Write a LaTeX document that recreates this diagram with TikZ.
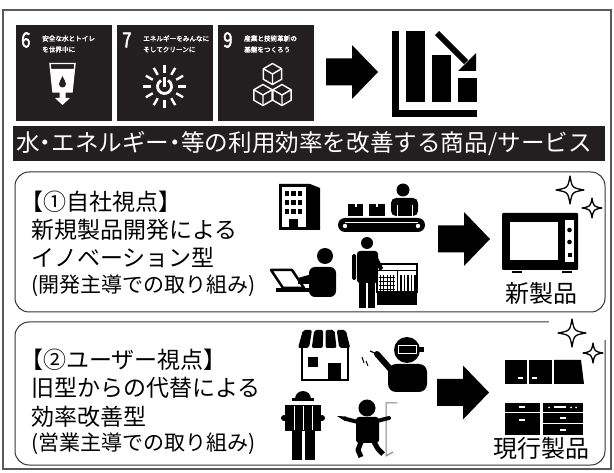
\documentclass[tikz,border=0pt]{standalone}
\usepackage{fontspec}
\setmainfont{Noto Sans CJK JP}
\newfontfamily\jpbold{Noto Sans CJK JP}[FakeBold=2.5]
\usetikzlibrary{calc}
\definecolor{sdgblack}{HTML}{231F20}
\definecolor{framegray}{HTML}{595959}
\definecolor{boxgray}{HTML}{333333}
\newcommand{\tilecolor}{sdgblack}
\newcommand{\iconline}{1.4pt}
\newcommand{\halfdot}{\makebox[0.5em]{・}}

% block arrow, left end #1, middle height #2
\newcommand{\blockarrow}[2]{%
  \fill (#1,#2-13.5) -- (#1+26,#2-13.5) -- (#1+26,#2-27) -- (#1+52,#2)
        -- (#1+26,#2+27) -- (#1+26,#2+13.5) -- (#1,#2+13.5) -- cycle;
}
% four point sparkle, centre #1,#2 and half size #3
\newcommand{\sparkle}[3]{%
  \filldraw[fill=white, draw=black, line width=1.3pt, line join=round]
    (#1,#2-#3) .. controls (#1+0.15*#3,#2-0.15*#3) .. (#1+#3,#2)
    .. controls (#1+0.15*#3,#2+0.15*#3) .. (#1,#2+#3)
    .. controls (#1-0.15*#3,#2+0.15*#3) .. (#1-#3,#2)
    .. controls (#1-0.15*#3,#2-0.15*#3) .. (#1,#2-#3) -- cycle;
}
% wire cube for goal 9
\newcommand{\isocube}[3]{%
  \filldraw[fill=\tilecolor, draw=white, line width=\iconline, line join=round]
    (#1,#2-#3) -- (#1+0.866*#3,#2-0.5*#3) -- (#1+0.866*#3,#2+0.5*#3) -- (#1,#2+#3)
    -- (#1-0.866*#3,#2+0.5*#3) -- (#1-0.866*#3,#2-0.5*#3) -- cycle;
  \draw[white, line width=\iconline, line join=round]
    (#1-0.866*#3,#2-0.5*#3) -- (#1,#2) -- (#1+0.866*#3,#2-0.5*#3) (#1,#2) -- (#1,#2+#3);
}

\begin{document}
\begin{tikzpicture}[x=1pt, y=-1pt,
    goalnum/.style={anchor=west, inner sep=0, text=white, font=\jpbold\fontsize{21}{21}\selectfont},
    goaltxt/.style={anchor=west, inner sep=0, text=white, font=\jpbold\fontsize{6.6}{7}\selectfont},
    boxline/.style={draw=boxgray, line width=1pt, rounded corners=14pt},
    bodytext/.style={anchor=base west, inner sep=0, font=\fontsize{23}{28}\selectfont},
    subtext/.style={anchor=base west, inner sep=0, font=\fontsize{21}{24}\selectfont},
    prodtext/.style={inner sep=0, font=\fontsize{24}{26}\selectfont}]
\useasboundingbox (0,0) rectangle (614,473);

    \draw[framegray, line width=1.5pt] (3,10) rectangle (611,469);

    %SDG tiles
    \foreach \n/\x/\la/\lb in {6/16/安全な水とトイレ/を世界中に,
                               7/117/エネルギーをみんなに/そしてクリーンに,
                               9/218/産業と技術革新の/基盤をつくろう} {
        \fill[\tilecolor] (\x,25) rectangle ++(96,96);
        \node[goalnum] (num\n) at (\x+5,40) {\scalebox{0.8}[1]{\n}};
        \node[goaltxt] (goal\n a) at (\x+26,38.5) {\la};
        \node[goaltxt] (goal\n b) at (\x+26,49.5) {\lb};
    }

    %Goal 6: glass
    \draw[white, line width=\iconline] (50,63.5) -- (75,63.5) -- (72,92) -- (53,92) -- cycle;
    \fill[white] (51,69) -- (74,69) -- (72,92) -- (53,92) -- cycle;
    \fill[white] (59.5,91) -- (65.5,91) -- (65.5,98) -- (70,98) -- (62.5,105) -- (55,98) -- (59.5,98) -- cycle;
    \fill[\tilecolor] (62.5,76) .. controls (61,80) and (59,81.5) .. (59,84)
        arc[start angle=180, end angle=0, radius=3.5] .. controls (66,81.5) and (64,80) .. (62.5,76);

    %Goal 7: sun
    \foreach \a in {0,30,...,330} {
        \draw[white, line width=2.4pt] (164.5,86.5) ++(\a:13.5) -- ++(\a:8);
    }
    \draw[white, line width=2.8pt] (164.5,86.5) ++(-60:7) arc[start angle=-60, end angle=240, radius=7];
    \draw[white, line width=2.8pt] (164.5,87) -- (164.5,77);

    %Goal 9: cubes
    \isocube{272.5}{74}{10.5}
    \isocube{263}{95}{10.5}
    \isocube{282}{95}{10.5}

    %Arrow and falling bars
    \blockarrow{326}{72}
    \fill (392,31) rectangle (399,117);
    \fill (392,110) rectangle (477,117);
    \fill (406,31) rectangle (425,102);
    \fill (432,55) rectangle (451,102);
    \fill (458,78) rectangle (477,102);
    \draw[line width=6pt] (437,33) -- (466,62);
    \fill (476,71) -- (458,71) -- (476,53) -- cycle;

    %Banner
    \fill[\tilecolor] (13,126) rectangle (605,161);
    \node[anchor=west, inner sep=0, text=white, font=\fontsize{23.6}{25}\selectfont]
        (banner) at (16,143.5) {水\halfdot エネルギー\halfdot 等の利用効率を改善する商品/サービス};

    %Box 1
    \draw[boxline] (15,172) rectangle (605,312);
    \node[bodytext] (own1) at (20,210.5) {【①自社視点】};
    \node[bodytext] (own2) at (31,239) {新規製品開発による};
    \node[bodytext] (own3) at (31,267) {イノベーション型};
    \node[subtext] (own4) at (31,292.5) {(開発主導での取り組み)};

    % building
    \fill (279,184) -- (310,184) -- (320,188) -- (320,230) -- (279,230) -- cycle;
    \fill[white] (282,187) rectangle (306,227);
    \foreach \c in {0,1,2} {
        \foreach \r in {0,1,2} {
            \fill (284.5+6.5*\c,191.5+9*\r) rectangle ++(4.5,5);
        }
    }
    \fill (289,219) rectangle (298,230);

    % conveyor
    \fill[rounded corners=7pt] (338,218) rectangle (425,232);
    \draw[white, line width=0.8pt] (345,222) -- (418,222);
    \fill[white] (345,226) circle (2.2);
    \fill[white] (418,226) circle (2.2);
    \fill (348,204) rectangle (363,216);
    \fill (369,204) rectangle (385,216);
    \fill[white] (354.5,204) rectangle (356.5,207);
    \fill[white] (376,204) rectangle (378,207);
    \fill (403,190) circle (6.5);
    \fill[rounded corners=5pt] (391,216) |- (418,198) -- (418,216) -- cycle;
    \draw[white, line width=0.8pt] (397,205) -- (397,216) (412,205) -- (412,216);

    % laptop worker
    \draw[line width=2.5pt, line join=round] (271,270) -- (292,270) -- (304,288) -- (283,288) -- cycle;
    \fill (276,288) rectangle (322,292);
    \fill (325,256) circle (8);
    \fill[rounded corners=6pt] (309,297) -- (309,267) -- (336,267) -- (336,297) -- cycle;
    \fill (298,278) -- (312,274) -- (312,284) -- (298,284) -- cycle;

    % shop counter
    \fill (367,243) circle (6);
    \fill[rounded corners=3pt] (357,251) rectangle (378,283);
    \fill[rounded corners=1.5pt] (352,254) rectangle (356,280);
    \fill (359,282) rectangle (366,308);
    \fill (368,282) rectangle (375,308);
    \fill (376,254) -- (383,268) -- (380,271) -- (374,260) -- cycle;
    \draw[line width=1.5pt] (377,264) rectangle (417,292);
    \draw[line width=0.8pt] (377,270) -- (417,270) (397,270) -- (397,292);
    \foreach \i in {0,...,4} {
        \draw[line width=0.6pt] (380+3.4*\i,275) -- ++(0,16);
        \fill (400+3.5*\i,275) rectangle ++(1.7,16);
    }
    \foreach \j in {0,...,3} {
        \draw[line width=0.6pt] (379,277+4*\j) -- (395,277+4*\j);
    }
    \fill (377,292) rectangle (417,305);

    \blockarrow{438}{239}

    % microwave
    \fill[rounded corners=1pt] (502,213) rectangle (578,270);
    \fill[white] (510,222) rectangle (558,260);
    \fill[white] (565,220) rectangle (574,262);
    \fill (569.5,230) circle (2.3);
    \fill (569.5,242) circle (2.3);
    \fill (567.5,253) rectangle (571.5,257);
    \fill (512,271) rectangle (522,273.5);
    \fill (562,271) rectangle (572,273.5);
    \sparkle{570}{190}{14}
    \sparkle{592}{208}{10}
    \node[prodtext] (newprod) at (541.5,293) {新製品};

    %Box 2
    \draw[boxline] (15,322) rectangle (605,465);
    \fill[white] (549,317) rectangle (608,340);
    \node[bodytext] (user1) at (20,369) {【②ユーザー視点】};
    \node[bodytext] (user2) at (31,397) {旧型からの代替による};
    \node[bodytext] (user3) at (31,425) {効率改善型};
    \node[subtext] (user4) at (31,450) {(営業主導での取り組み)};

    % shop front
    \foreach \i in {0,...,3} {
        \fill[rounded corners=2pt] (303+11.25*\i,330) -- (312+11.25*\i,330)
            -- (309+13.75*\i,348) -- (298+13.75*\i,348) -- cycle;
    }
    \draw[line width=2.8pt] (302,347) -- (302,380) -- (348,380) -- (348,347);
    \fill (308,357) rectangle (318,367);
    \fill (328,363) rectangle (341,380);

    % welder
    \fill (407,350) circle (13);
    \fill (418,347) rectangle (424,352);
    \draw[white, line width=1pt] (398,346) rectangle (416,354);
    \fill[rounded corners=8pt] (388,392) -- (388,364) -- (427,364) -- (427,392) -- cycle;
    \draw[line width=6pt, line cap=round] (393,372) -- (377,354);
    \draw[line width=1.2pt] (377,354) -- (370,351);
    \draw[line width=1pt] (362,357) -- (364,363) (366,361) -- (368,366);

    % site worker with plan
    \fill (295,399) arc[start angle=180, end angle=360, radius=8];
    \fill (292,398.5) rectangle (314,401);
    \fill (285,405) rectangle (321,431);
    \draw[white, line width=0.8pt] (303,406) -- (303,430) (294,406) -- (294,430) (312,406) -- (312,430);
    \fill (284,418) circle (3);
    \fill (322,418) circle (3);
    \fill (292,431) rectangle (302,460);
    \fill (305,431) rectangle (315,460);

    % fitter at door
    \draw[gray, line width=1pt] (397,403) -- (386,403) -- (386,456) -- (393,452);
    \fill (367,408) circle (8.5);
    \fill[rounded corners=3pt] (356,417) rectangle (379,443);
    \draw[line width=4pt, line cap=round] (358,422) -- (346,419);
    \fill (337,416) -- (346,416.5) -- (345,421) -- cycle;
    \draw[line width=4pt, line cap=round] (377,421) -- (389,418);
    \draw[line width=5pt, line join=round] (361,442) -- (358,450) -- (361,457) (374,442) -- (378,449) -- (383,454);

    \blockarrow{437}{392.5}

    % cabinets
    \fill (505,360) rectangle (527,384);
    \fill (529,360) rectangle (552,384);
    \fill (554,360) -- (581,360) -- (584,384) -- (554,384) -- cycle;
    \fill[white] (518,377) rectangle (523,379);
    \fill[white] (532,377) rectangle (537,379);
    \fill (505,403) rectangle (540,435);
    \draw[white, line width=1pt] (505,412.5) -- (540,412.5);
    \fill[white] (519,406.5) rectangle (525,408.5);
    \fill[white] (519,419) rectangle (525,421);
    \fill (543,403) rectangle (583,435);
    \draw[white, line width=1pt] (543,412.5) -- (583,412.5) (543,424) -- (583,424);
    \fill[white] (549,407.5) circle (1);
    \fill[white] (554,406.5) rectangle (566,408.5);
    \fill[white] (571,407.5) circle (1);
    \fill[white] (576,407.5) circle (1);
    \fill[white] (560,417.5) rectangle (566,419.5);
    \fill[white] (560,429) rectangle (566,431);
    \sparkle{572}{333}{14}
    \sparkle{593}{353}{10}
    \node[prodtext] (curprod) at (541.5,448) {現行製品};
\end{tikzpicture}
\end{document}
